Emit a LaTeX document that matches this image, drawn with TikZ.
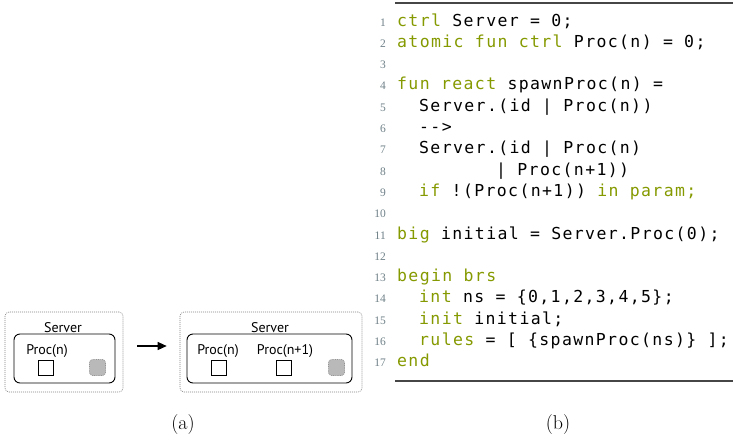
\documentclass[tikz,border=0pt]{standalone}
\usepackage{fontspec}
\usetikzlibrary{arrows.meta}
\newfontfamily\codefont[LetterSpace=8.3]{DejaVu Sans Mono}
\newfontfamily\labelfont{PT Sans}
\newfontfamily\lnofont{Liberation Serif}
\definecolor{kw}{RGB}{133,153,0}
\definecolor{lno}{RGB}{110,128,135}
\definecolor{rulec}{RGB}{70,70,70}
\newcommand\K[1]{\textcolor{kw}{#1}}
\newcommand\ind[1]{\hspace*{#1\dimexpr 11pt\relax}}
\begin{document}
\begin{tikzpicture}[x=1pt,y=-1pt,
  outerbox/.style={draw=gray, line width=0.6pt, dash pattern=on 1pt off 1pt, rounded corners=4pt, inner sep=0pt},
  innerbox/.style={draw=black, line width=0.9pt, rounded corners=6pt, inner sep=0pt},
  sq/.style={draw=black, line width=0.6pt, minimum width=15pt, minimum height=15pt, inner sep=0pt},
  graysq/.style={draw=gray!85, fill=gray!55, line width=0.6pt, dash pattern=on 1pt off 0.8pt, rounded corners=3pt, minimum width=16pt, minimum height=16pt, inner sep=0pt},
  lbl/.style={font=\labelfont\fontsize{14}{16}\selectfont, anchor=base, inner sep=0pt},
  captxt/.style={font=\fontsize{20}{22}\selectfont, anchor=base, inner sep=0pt},
  code/.style={anchor=base west, inner sep=0pt, font=\codefont\fontsize{16.5}{19}\selectfont},
  lnum/.style={anchor=base east, inner sep=0pt, text=lno, font=\lnofont\fontsize{11.5}{13}\selectfont},
  rulel/.style={draw=rulec, line width=1.3pt}]
\useasboundingbox (0,0) rectangle (733,439);

% ---------- (a) left state ----------
\node[outerbox, minimum width=118pt, minimum height=80pt] (o1) at (64,352) {};
\node[innerbox, minimum width=101pt, minimum height=49pt] (i1) at (64.5,358.5) {};
\node[lbl] (s1) at (63,332) {Server};
\node[lbl] (p1) at (47,354) {Proc(n)};
\node[sq] (q1) at (46,367.5) {};
\node[graysq] (g1) at (97.5,367.5) {};

% ---------- (a) right state ----------
\node[outerbox, minimum width=182pt, minimum height=80pt] (o2) at (271,352) {};
\node[innerbox, minimum width=165pt, minimum height=49pt] (i2) at (269.5,358.5) {};
\node[lbl] (s2) at (270,332) {Server};
\node[lbl] (p2) at (218,354) {Proc(n)};
\node[lbl] (p3) at (285,354) {Proc(n+1)};
\node[sq] (q2) at (219,367.5) {};
\node[sq] (q3) at (284,367.5) {};
\node[graysq] (g2) at (336.5,367.5) {};

\draw[line width=1.2pt, -{Triangle[length=9pt,width=8pt]}] ([xshift=14pt,yshift=6pt]o1.east) -- ([xshift=-13pt,yshift=6pt]o2.west);

\node[captxt] (ca) at (183,429) {(a)};
\node[captxt] (cb) at (558,429) {(b)};

% ---------- (b) code listing ----------
\coordinate (r1a) at (395,3);
\coordinate (r1b) at (733,3);
\coordinate (r2a) at (395,381);
\coordinate (r2b) at (733,381);
\draw[rulel] (r1a) -- (r1b);
\draw[rulel] (r2a) -- (r2b);

\foreach \i in {1,...,17} \node[lnum] (n\i) at (386,{26+(\i-1)*21.3}) {\i};

\node[code] (c1)  at (397,{26+0*21.3})  {\K{ctrl} Server = 0;};
\node[code] (c2)  at (397,{26+1*21.3})  {\K{atomic} \K{fun} \K{ctrl} Proc(n) = 0;};
\node[code] (c4)  at (397,{26+3*21.3})  {\K{fun} \K{react} spawnProc(n) =};
\node[code] (c5)  at (397,{26+4*21.3})  {\ind{2}Server.(id | Proc(n))};
\node[code] (c6)  at (397,{26+5*21.3})  {\ind{2}-{}-{}>};
\node[code] (c7)  at (397,{26+6*21.3})  {\ind{2}Server.(id | Proc(n)};
\node[code] (c8)  at (397,{26+7*21.3})  {\ind{9}| Proc(n+1))};
\node[code] (c9)  at (397,{26+8*21.3})  {\ind{2}\K{if} !(Proc(n+1)) \K{in} \K{param;}};
\node[code] (c11) at (397,{26+10*21.3}) {\K{big} initial = Server.Proc(0);};
\node[code] (c13) at (397,{26+12*21.3}) {\K{begin} \K{brs}};
\node[code] (c14) at (397,{26+13*21.3}) {\ind{2}\K{int} ns = \{0,1,2,3,4,5\};};
\node[code] (c15) at (397,{26+14*21.3}) {\ind{2}\K{init} initial;};
\node[code] (c16) at (397,{26+15*21.3}) {\ind{2}\K{rules} = [ \{spawnProc(ns)\} ];};
\node[code] (c17) at (397,{26+16*21.3}) {\K{end}};
\end{tikzpicture}
\end{document}
